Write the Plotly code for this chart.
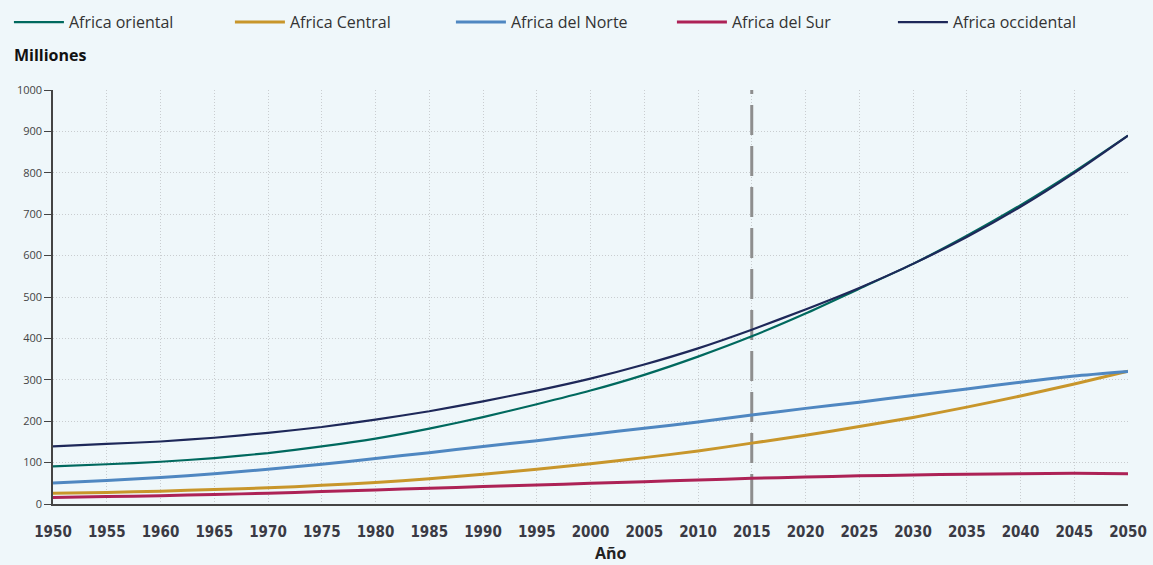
import plotly.graph_objects as go

years = list(range(1950, 2051, 5))

oriental = [91, 96, 102, 111, 123, 139, 158, 182, 210, 241, 274, 312, 356, 405, 460, 520, 580, 648, 722, 803, 890]
central = [26, 28, 31, 35, 39, 45, 52, 61, 72, 84, 97, 112, 128, 147, 166, 187, 209, 234, 261, 290, 321]
norte = [51, 57, 64, 73, 84, 96, 110, 124, 139, 153, 168, 183, 198, 215, 231, 246, 262, 278, 294, 309, 320]
sur = [16, 18, 20, 23, 26, 30, 34, 38, 42, 46, 50, 54, 58, 62, 65, 68, 70, 72, 73, 74, 73]
occidental = [139, 145, 151, 160, 172, 186, 204, 224, 248, 274, 303, 337, 376, 421, 470, 522, 580, 645, 718, 800, 890]

ref_year = [2015, 2015]
ref_vals = [0, 1000]

series = [
    ("Africa oriental", oriental, "#00695e", 2.2),
    ("Africa Central", central, "#c8962b", 3),
    ("Africa del Norte", norte, "#4f87c1", 3),
    ("Africa del Sur", sur, "#ad2256", 3),
    ("Africa occidental", occidental, "#1e2859", 2.2),
]

BG = "#eff7fa"
GRID = "#c9cdd0"

fig = go.Figure()

# vertical reference line at 2015
fig.add_trace(go.Scatter(
    x=ref_year, y=ref_vals, mode="lines", showlegend=False, hoverinfo="skip",
    line=dict(color="#8e8e8e", width=3, dash="30px,11px"),
))

for name, vals, color, w in series:
    fig.add_trace(go.Scatter(
        x=years, y=vals, name=name, mode="lines",
        line=dict(color=color, width=w, shape="spline", smoothing=0.6),
    ))

fig.update_layout(
    width=1153, height=565,
    paper_bgcolor=BG, plot_bgcolor=BG,
    margin=dict(l=53, r=25, t=90, b=61, autoexpand=False),
    font=dict(family="Open Sans, sans-serif", color="#333333"),
    legend=dict(
        orientation="h", x=-0.041, xref="paper", xanchor="left",
        y=1.205, yref="paper", yanchor="top",
        font=dict(size=16, color="#333333"),
        entrywidth=156, entrywidthmode="pixels",
        itemwidth=50,
        bgcolor="rgba(0,0,0,0)",
    ),
    showlegend=True,
)

fig.update_xaxes(
    range=[1950, 2050], tickvals=years, ticktext=[str(y) for y in years],
    showgrid=True, gridcolor=GRID, griddash="1px,2px", gridwidth=1,
    showline=True, linecolor="#444444", linewidth=1.5,
    ticks="", zeroline=False, ticklabelstandoff=13,
    tickfont=dict(family="DejaVu Sans Condensed, Liberation Sans Narrow, sans-serif", size=15, color="#3a3a44", weight="bold"),
)

fig.update_yaxes(
    range=[0, 1000], tickvals=list(range(0, 1001, 100)), tickformat="d",
    showgrid=True, gridcolor=GRID, griddash="1px,2px", gridwidth=1,
    showline=True, linecolor="#444444", linewidth=1.5,
    ticks="outside", ticklen=7, tickcolor="#444444",
    zeroline=False,
    tickfont=dict(size=11, color="#444444"),
)

fig.add_annotation(
    text="<b>Milliones</b>", xref="paper", yref="paper",
    x=-0.038, y=1.0845, xanchor="left", yanchor="middle",
    showarrow=False, font=dict(size=16, color="#111111"),
)
fig.add_annotation(
    text="<b>Año</b>", xref="paper", yref="paper",
    x=0.5194, y=-0.119, xanchor="center", yanchor="middle",
    showarrow=False, font=dict(size=16, color="#222222"),
)

fig.write_html(
    "out.html",
    config={"displayModeBar": False},
    post_script="document.body.style.margin='0';",
)
